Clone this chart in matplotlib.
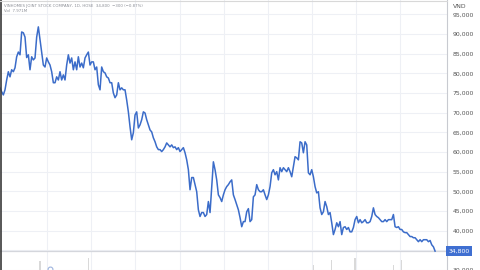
import matplotlib
matplotlib.use("Agg")
import matplotlib.pyplot as plt
import matplotlib.transforms as mtransforms
from matplotlib.lines import Line2D

# ---- data (daily closes, VND) ----
close = [
    76300, 75300, 74500, 75800, 78300, 80400, 79100, 80900, 80400, 81400,
    84200, 85400, 84700, 90500, 90300, 89200, 84000, 84700, 80900, 84200,
    83400, 83900, 89200, 91800, 88500, 85200, 82100, 81600, 83900, 82900,
    82100, 80400, 77600, 77600, 79100, 78300, 80400, 78300, 79600, 78300,
    82100, 84700, 82600, 83900, 80900, 82900, 80900, 84200, 81600, 82600,
    81400, 83900, 84700, 85400, 82100, 82900, 82900, 80900, 81600, 77100,
    75800, 81600, 80400, 80100, 79100, 78800, 77600, 77600, 75000, 73800,
    74500, 77600, 75800, 76300, 75800, 75800, 73200, 70200, 66400, 63100,
    64900, 69400, 70200, 66100, 66900, 68200, 70200, 69900, 68200, 66900,
    65600, 65100, 63600, 62600, 61300, 60600, 60600, 60100, 60600, 61300,
    62300, 61800, 61300, 61800, 61100, 61300, 60600, 61100, 60100, 60600,
    61100, 59800, 58000, 55500, 50400, 53500, 53500, 51700, 49900, 45300,
    43600, 44600, 44600, 43600, 44100, 47400, 44600, 51200, 57500, 55500,
    52900, 49100, 48400, 47400, 49100, 50400, 51200, 51700, 52400, 52900,
    49100, 47900, 46600, 45300, 43300, 41000, 42300, 42300, 44800, 45600,
    42300, 42800, 48600, 49100, 51700, 50400, 49900, 49900, 50400, 49100,
    47900, 49100, 51200, 54700, 55500, 54200, 55000, 52900, 56000, 55000,
    56000, 55500, 55000, 56000, 55000, 53700, 56200, 58800, 58500, 58000,
    62600, 62300, 59800, 62600, 61800, 54700, 54200, 55500, 53700, 51200,
    49600, 49900, 45800, 44100, 44800, 47400, 46100, 44100, 44600, 42000,
    39000, 40300, 42000, 41000, 42300, 39000, 40800, 41000, 40300, 40800,
    39700, 39700, 40800, 42800, 43600, 42000, 42800, 42000, 42300, 42800,
    42000, 42000, 42300, 43600, 45800, 44100, 43600, 43300, 42800, 42300,
    42300, 42800, 42300, 42800, 42800, 42800, 44100, 41000, 40800, 41000,
    40300, 40300, 39700, 39500, 39500, 39000, 38500, 38500, 38200, 38200,
    37700, 37200, 37700, 37200, 37700, 37700, 37700, 37200, 37500, 36400,
    35900, 34800,
]
sessions = list(range(len(close)))

# volume spikes tall enough to show at the bottom edge (millions of shares)
vol_sessions = [24, 53, 188, 199, 213, 236, 241]
vol_millions = [27.7, 28.8, 26.0, 28.0, 28.8, 26.0, 28.0]

# month boundaries (session index) used for vertical grid
month_starts = [28, 54.5, 81, 108, 134.5, 161, 187, 213.5, 240]

event_sessions = [30]

grid_levels = list(range(30000, 95001, 5000))
label_levels = [30000, 40000, 45000, 50000, 55000, 60000, 65000, 70000,
                75000, 80000, 85000, 90000, 95000]
last_price = 34800
title_txt = "VINHOMES JOINT STOCK COMPANY, 1D, HOSE  34,800  \u2212300 (\u22120.87%)"
vol_txt = "Vol  7.971M"

# ---- figure ----
W, H = 480, 270
fig = plt.figure(figsize=(W / 100, H / 100), dpi=100)
fig.patch.set_facecolor("white")
ax = fig.add_axes([0, 0, 447 / W, 1])
ax.set_facecolor("white")

ax.set_xlim(0, 447 / 1.667)
ax.set_ylim(30100, 98630)

grid_c = "#eef0f5"
for v in grid_levels:
    ax.axhline(v, color=grid_c, lw=0.8, zorder=0)
for m in month_starts:
    ax.axvline(m, color=grid_c, lw=0.8, zorder=0)

# volume overlay
ax2 = ax.twinx()
ax2.set_ylim(24, 132)
ax2.bar(vol_sessions, vol_millions, width=0.7, color="#d9d9d9", zorder=1)
ax2.axis("off")

ax.axhline(last_price, color="#d4d6dc", lw=0.9, zorder=1)
ax.plot(sessions, close, color="#3b6cc9", lw=1.1, zorder=3, solid_joinstyle="round")

trans = mtransforms.blended_transform_factory(ax.transData, ax.transAxes)
ax.plot(event_sessions, [0.005] * len(event_sessions), marker="o", ms=3.5,
        mfc="white", mec="#9db3de", mew=0.8, ls="none", transform=trans,
        clip_on=False, zorder=4)

for s in ["left", "top", "bottom"]:
    ax.spines[s].set_visible(False)
ax.spines["right"].set_color("#c8cad0")
ax.spines["right"].set_linewidth(0.8)

ax.set_xticks([])
ax.yaxis.tick_right()
ax.set_yticks(label_levels)
ax.set_yticklabels([f"{v:,}" for v in label_levels])
ax.tick_params(axis="y", length=0, pad=4.3, labelsize=4.4, labelcolor="#555555")

# last-price label
trans_y = mtransforms.blended_transform_factory(ax.transAxes, ax.transData)
ax.text(1.003, last_price, f"{last_price:,}", transform=trans_y, ha="left",
        va="center", fontsize=4.4, color="white", zorder=6,
        bbox=dict(boxstyle="square,pad=0.35", fc="#3f6fd1", ec="none"))

fig.text(453 / W, 1 - 6 / H, "VND", fontsize=4.4, color="#555555",
         ha="left", va="center")
fig.text(4 / W, 1 - 5.5 / H, title_txt, fontsize=2.8, color="#8a8d95",
         ha="left", va="center")
fig.text(4 / W, 1 - 11.5 / H, vol_txt, fontsize=2.8, color="#8a8d95",
         ha="left", va="center")

fig.add_artist(Line2D([1 / W, 1 / W], [0, 1], color="#3a3a3a", lw=1.2))
fig.add_artist(Line2D([0, 447 / W], [1 - 0.5 / H, 1 - 0.5 / H], color="#d8d8d8", lw=0.8))

fig.savefig("out.png", dpi=100)
